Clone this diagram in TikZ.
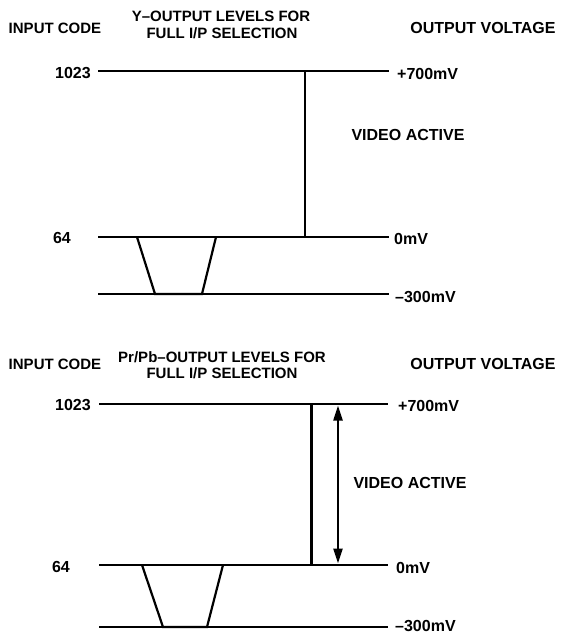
\documentclass[tikz,border=0pt]{standalone}
\usepackage{fontspec}
\setmainfont{Liberation Sans}
\usetikzlibrary{arrows.meta}
\begin{document}
\begin{tikzpicture}[x=1pt,y=-1pt,
  lvl/.style={line width=2.4pt},
  thin/.style={line width=2.2pt},
  lbl/.style={font=\fontsize{16}{18}\selectfont\bfseries, inner sep=0pt, text height=11.4pt, text depth=0pt},
  ttl/.style={font=\fontsize{15}{17}\selectfont\bfseries, inner sep=0pt, text height=10.8pt, text depth=0pt},
  span/.style={line width=2.2pt, {Triangle[width=9pt,length=15pt]}-{Triangle[width=9pt,length=15pt]}}]
\useasboundingbox (0,0) rectangle (569,635);

% ---------- top diagram ----------
\node[ttl] (inA) at (55,28) {INPUT CODE};
\node[ttl] (tA1) at (221,16) {Y–OUTPUT LEVELS FOR};
\node[ttl] (tA2) at (222,33) {FULL I/P SELECTION};
\node[lbl] (ovA) at (483,28) {OUTPUT VOLTAGE};

\coordinate (hA1l) at (98,71);  \coordinate (hA1r) at (389,71);
\coordinate (hA2l) at (98,237); \coordinate (hA2r) at (389,237);
\coordinate (hA3l) at (98,294); \coordinate (hA3r) at (389,294);
\draw[lvl] (hA1l) -- (hA1r);
\draw[lvl] (hA2l) -- (hA2r);
\draw[lvl] (hA3l) -- (hA3r);

\node[lbl, anchor=east] (cA1) at (91,73) {1023};
\node[lbl] (cA2) at (62,238) {64};
\node[lbl, anchor=west] (vA1) at (397,74) {+700mV};
\node[lbl, anchor=west] (vA2) at (394,239) {0mV};
\node[lbl, anchor=west] (vA3) at (395,297) {–300mV};
\node[lbl] (actA) at (408,135) {VIDEO ACTIVE};

\coordinate (vtA) at (305,71); \coordinate (vbA) at (305,237);
\draw[thin] (vtA) -- (vbA);

\coordinate (zA1) at (137,237); \coordinate (zA2) at (155,294);
\coordinate (zA3) at (202,294); \coordinate (zA4) at (216,237);
\draw[thin, line join=miter] (zA1) -- (zA2) -- (zA3) -- (zA4);

% ---------- bottom diagram ----------
\node[ttl] (inB) at (55,364) {INPUT CODE};
\node[ttl] (tB1) at (222,357) {Pr/Pb–OUTPUT LEVELS FOR};
\node[ttl] (tB2) at (222,373) {FULL I/P SELECTION};
\node[lbl] (ovB) at (483,364) {OUTPUT VOLTAGE};

\coordinate (hB1l) at (99,404); \coordinate (hB1r) at (388,404);
\coordinate (hB2l) at (99,565); \coordinate (hB2r) at (388,565);
\coordinate (hB3l) at (99,627); \coordinate (hB3r) at (388,627);
\draw[lvl] (hB1l) -- (hB1r);
\draw[lvl] (hB2l) -- (hB2r);
\draw[lvl] (hB3l) -- (hB3r);

\node[lbl, anchor=east] (cB1) at (91,405) {1023};
\node[lbl] (cB2) at (61,567) {64};
\node[lbl, anchor=west] (vB1) at (398,406) {+700mV};
\node[lbl, anchor=west] (vB2) at (396,568) {0mV};
\node[lbl, anchor=west] (vB3) at (395,626) {–300mV};
\node[lbl] (actB) at (410,483) {VIDEO ACTIVE};

\coordinate (vtB) at (311.5,404); \coordinate (vbB) at (311.5,565);
\draw[thin] (vtB) -- (vbB);

\coordinate (atB) at (338,405.5); \coordinate (abB) at (338,563.5);
\draw[span] (atB) -- (abB);

\coordinate (zB1) at (142,565); \coordinate (zB2) at (163,627);
\coordinate (zB3) at (207,627); \coordinate (zB4) at (223,565);
\draw[thin, line join=miter] (zB1) -- (zB2) -- (zB3) -- (zB4);
\end{tikzpicture}
\end{document}
